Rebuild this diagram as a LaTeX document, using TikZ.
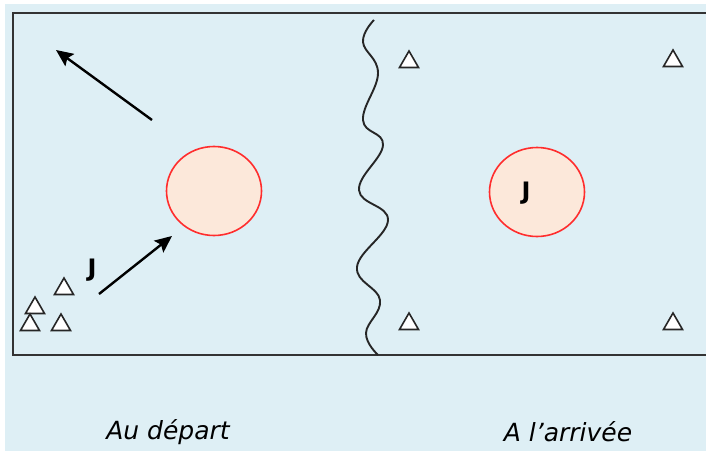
\documentclass[tikz,border=0pt]{standalone}
\usepackage{fontspec}
\setmainfont{DejaVu Sans}
\usetikzlibrary{shapes.geometric,arrows.meta}
\definecolor{bgblue}{RGB}{222,239,245}
\definecolor{ballfill}{RGB}{252,232,218}
\definecolor{ballred}{RGB}{255,45,45}
\tikzset{
  ball/.style={ellipse, draw=ballred, fill=ballfill, line width=1.6pt, minimum width=95pt, minimum height=89pt, inner sep=0pt},
  cone/.style={regular polygon, regular polygon sides=3, draw=black!85, fill=white, line width=1.6pt, minimum size=22pt, inner sep=0pt},
  mvarrow/.style={line width=2.4pt, -{Stealth[length=17pt,width=15pt,inset=3pt]}},
  jlabel/.style={font=\fontsize{24}{28}\selectfont\bfseries, text=black, inner sep=0pt},
  caption/.style={font=\fontsize{25}{30}\selectfont\itshape, inner sep=0pt}
}
\begin{document}
\begin{tikzpicture}[x=1pt,y=-1pt]
\useasboundingbox (0,0) rectangle (706,450);
\clip (0,0) rectangle (706,450);
\fill[bgblue] (5,4) rectangle (712,452);
\draw[line width=2.2pt, black!80] (13,13) rectangle (715,355);
% wavy line
\draw[line width=1.9pt, black!85] plot[smooth, tension=0.7] coordinates {
 (374,20) (363,42) (378,73) (363,120) (383,145) (359,190) (388,220) (357,267) (380,300) (366,333) (378,355)};
% balls
\node[ball] (ballL) at (214,191) {};
\node[ball] (ballR) at (537,192) {};
\node[jlabel] (jR) at (526,193) {J};
\node[jlabel] (jL) at (92,270) {J};
% cones
\node[cone] (c1) at (64,289) {};
\node[cone] (c2) at (35,308) {};
\node[cone] (c3) at (30,325) {};
\node[cone] (c4) at (61,325) {};
\node[cone] (c5) at (409,62) {};
\node[cone] (c6) at (673,61) {};
\node[cone] (c7) at (409,324) {};
\node[cone] (c8) at (673,324) {};
% arrows
\coordinate (a1s) at (152,120);
\coordinate (a1e) at (56,50);
\coordinate (a2s) at (99,294);
\coordinate (a2e) at (172,236);
\draw[mvarrow] (a1s) -- (a1e);
\draw[mvarrow] (a2s) -- (a2e);
% captions
\node[caption] (capL) at (168,432) {Au départ};
\node[caption] (capR) at (568,432) {A l'arrivée};
\end{tikzpicture}
\end{document}
